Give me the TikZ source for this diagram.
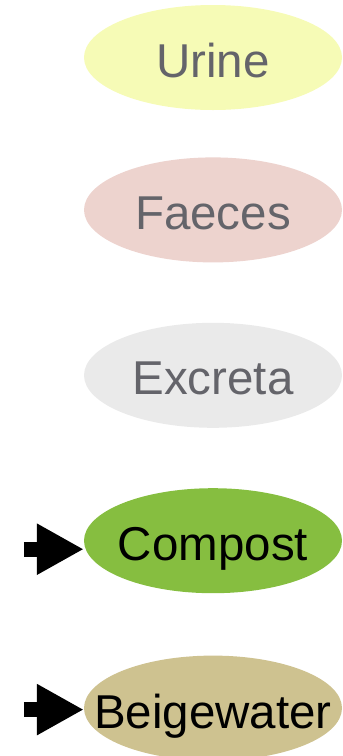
\documentclass[tikz,border=0pt]{standalone}
\usepackage{fontspec}
\setmainfont{Liberation Sans}
\usetikzlibrary{shapes,arrows.meta,positioning,calc}
\definecolor{urinefill}{RGB}{246,251,182}
\definecolor{faecesfill}{RGB}{237,211,206}
\definecolor{excretafill}{RGB}{234,234,234}
\definecolor{compostfill}{RGB}{134,190,64}
\definecolor{beigefill}{RGB}{206,194,144}
\definecolor{greytext}{RGB}{100,100,106}

\tikzset{
  blob/.style={ellipse, fill=#1, minimum width=258pt, minimum height=105pt, inner sep=0pt},
  pale/.style={text=greytext, text depth=0pt, yshift=-3pt},
  dark/.style={text=black, text depth=0pt, yshift=-3pt},
  blockarrow/.style={line width=15pt, -{Triangle[length=47pt,width=48pt]}}
}

\begin{document}
\begin{tikzpicture}[x=1pt, y=-1pt, font=\fontsize{47.5}{56}\selectfont]
\useasboundingbox (0,0) rectangle (343,756);
\node[blob=urinefill, label={[pale]center:Urine}] (urine) at (213,57.5) {};
\node[blob=faecesfill, label={[pale]center:Faeces}, below=47pt of urine] (faeces) {};
\node[blob=excretafill, label={[pale]center:Excreta}, below=60pt of faeces] (excreta) {};
\node[blob=compostfill, label={[dark]center:Compost}, below=60pt of excreta] (compost) {};
\node[blob=beigefill, label={[dark]center:Beigewater}, below=62pt of compost] (beige) {};

\coordinate (cin) at ($(compost.west)+(-60pt,-8.5pt)$);
\coordinate (bin) at ($(beige.west)+(-60pt,-1.5pt)$);
\draw[blockarrow] (cin) -- (cin -| compost.west);
\draw[blockarrow] (bin) -- (bin -| beige.west);
\end{tikzpicture}
\end{document}
